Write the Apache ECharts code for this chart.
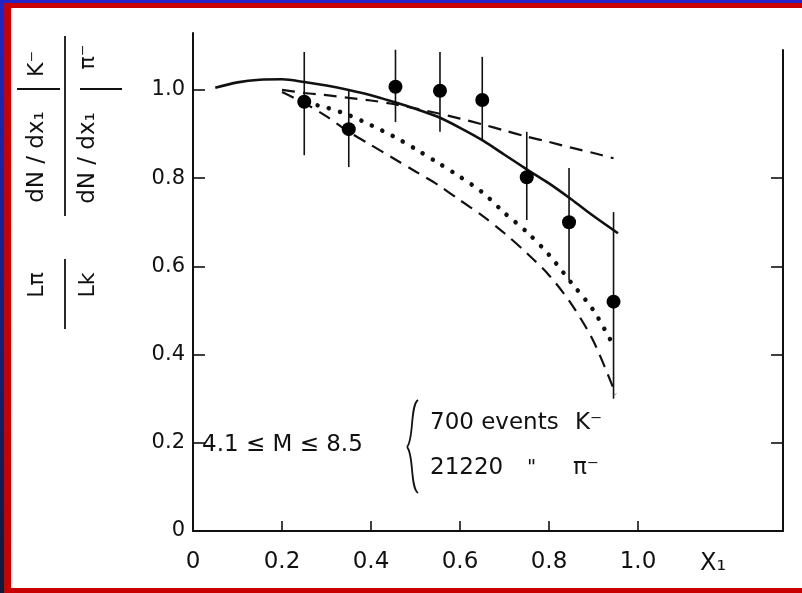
<!DOCTYPE html>
<html>
<head>
<meta charset="utf-8">
<script src="https://cdn.jsdelivr.net/npm/echarts@6/dist/echarts.min.js"></script>
<style>
html,body{margin:0;padding:0;background:#fff;}
#chart{width:802px;height:593px;}
</style>
</head>
<body>
<div id="chart"></div>
<script>
// ---- data ----
const xTickLabels = [0, 0.2, 0.4, 0.6, 0.8, 1.0];
const yTickLabels = [0, 0.2, 0.4, 0.6, 0.8, 1.0];
const xTickMarks = [0.2, 0.4, 0.6, 0.8, 1.0];
const yTickMarks = [0.2, 0.4, 0.6, 0.8, 1.0];
const yRightTickMarks = [0.2, 0.4, 0.6, 0.8];

const pointX = [0.25, 0.35, 0.455, 0.555, 0.65, 0.75, 0.845, 0.945];
const pointY = [0.973, 0.911, 1.007, 0.998, 0.977, 0.802, 0.70, 0.52];
const errLow = [0.852, 0.825, 0.927, 0.905, 0.886, 0.705, 0.568, 0.30];
const errHigh = [1.086, 1.0, 1.091, 1.086, 1.075, 0.905, 0.823, 0.723];

const solidX = [0.05, 0.1, 0.15, 0.2, 0.25, 0.3, 0.35, 0.4, 0.45, 0.5, 0.55, 0.6, 0.65, 0.7, 0.75, 0.8, 0.85, 0.9, 0.955];
const solidY = [1.005, 1.017, 1.023, 1.024, 1.018, 1.01, 1.0, 0.988, 0.973, 0.957, 0.939, 0.914, 0.886, 0.853, 0.82, 0.788, 0.752, 0.714, 0.675];

const upperDashX = [0.2, 0.25, 0.3, 0.35, 0.4, 0.45, 0.5, 0.55, 0.6, 0.65, 0.7, 0.75, 0.8, 0.85, 0.9, 0.945];
const upperDashY = [1.0, 0.993, 0.988, 0.982, 0.976, 0.968, 0.958, 0.947, 0.935, 0.922, 0.908, 0.894, 0.882, 0.869, 0.857, 0.845];

const dottedX = [0.28, 0.3, 0.35, 0.4, 0.45, 0.5, 0.55, 0.6, 0.65, 0.7, 0.75, 0.8, 0.85, 0.9, 0.945];
const dottedY = [0.965, 0.96, 0.943, 0.92, 0.895, 0.866, 0.835, 0.803, 0.768, 0.721, 0.678, 0.626, 0.563, 0.50, 0.42];

const lowerDashX = [0.2, 0.25, 0.3, 0.35, 0.4, 0.45, 0.5, 0.55, 0.6, 0.65, 0.7, 0.75, 0.8, 0.85, 0.9, 0.95];
const lowerDashY = [0.995, 0.97, 0.94, 0.905, 0.875, 0.845, 0.815, 0.785, 0.75, 0.715, 0.675, 0.63, 0.58, 0.515, 0.43, 0.31];

// ---- build ----
const zip = (xs, ys) => xs.map((x, i) => [x, ys[i]]);
const FONT = '"DejaVu Sans", "Liberation Sans", sans-serif';
const fmt = v => (v === 0 ? '0' : v.toFixed(1));

const chart = echarts.init(document.getElementById('chart'), null, {renderer: 'canvas'});

function txt(text, x, y, size, opts) {
  opts = opts || {};
  return {
    type: 'text', x: x, y: y, rotation: opts.rotation || 0, z: 50,
    style: {
      text: text, fill: '#111',
      font: size + 'px ' + FONT,
      textAlign: opts.align || 'left',
      textVerticalAlign: 'middle'
    }
  };
}
function ln(x1, y1, x2, y2, w) {
  return {type: 'line', z: 50, shape: {x1: x1, y1: y1, x2: x2, y2: y2},
          style: {stroke: '#111', lineWidth: w || 1.8}};
}
const R = Math.PI / 2;

const option = {
  animation: false,
  backgroundColor: {
    type: 'linear', x: 0, y: 0, x2: 0, y2: 1,
    colorStops: [{offset: 0, color: '#2424c4'}, {offset: 1, color: '#111a36'}]
  },
  grid: [
    {left: 193, top: 33, width: 590, height: 498},
    {left: 193, top: 50, width: 590, height: 481}
  ],
  xAxis: [
    {
      gridIndex: 0, type: 'value', min: 0, max: 1.3258,
      axisLine: {show: true, onZero: false, lineStyle: {color: '#111', width: 2}},
      axisTick: {show: true, inside: true, length: 10, customValues: xTickMarks, lineStyle: {color: '#111', width: 1.6}},
      axisLabel: {show: true, customValues: xTickLabels, formatter: fmt, fontSize: 23, fontFamily: FONT, color: '#111', margin: 20},
      splitLine: {show: false}
    },
    {gridIndex: 1, type: 'value', min: 0, max: 1.3258, show: false}
  ],
  yAxis: [
    {
      gridIndex: 0, type: 'value', min: 0, max: 1.129,
      axisLine: {show: true, onZero: false, lineStyle: {color: '#111', width: 2}},
      axisTick: {show: true, inside: true, length: 12, customValues: yTickMarks, lineStyle: {color: '#111', width: 1.6}},
      axisLabel: {show: true, customValues: yTickLabels, formatter: fmt, fontSize: 21, fontFamily: FONT, color: '#111', margin: 8},
      splitLine: {show: false}
    },
    {
      gridIndex: 1, type: 'value', position: 'right', min: 0, max: 1.0907,
      axisLine: {show: true, onZero: false, lineStyle: {color: '#111', width: 2}},
      axisTick: {show: true, inside: true, length: 12, customValues: yRightTickMarks, lineStyle: {color: '#111', width: 1.6}},
      axisLabel: {show: false},
      splitLine: {show: false}
    }
  ],
  graphic: [
    {type: 'rect', z: -10, shape: {x: 4, y: 3, width: 798, height: 590}, style: {fill: '#c80000'}},
    {type: 'rect', z: -9, shape: {x: 11, y: 8, width: 791, height: 580}, style: {fill: '#ffffff'}},
    // y-axis title: rotated fractions
    txt('dN / dx\u2081', 37, 157, 23, {rotation: R, align: 'center'}),
    txt('K\u207B', 37, 64, 22, {rotation: R, align: 'center'}),
    ln(17, 89, 60, 89),
    txt('dN / dx\u2081', 88, 158, 23, {rotation: R, align: 'center'}),
    txt('\u03C0\u207B', 88, 57, 22, {rotation: R, align: 'center'}),
    ln(80, 89, 122, 89),
    ln(65, 36, 65, 216),
    txt('L\u03C0', 37, 285, 22, {rotation: R, align: 'center'}),
    txt('Lk', 88, 285, 22, {rotation: R, align: 'center'}),
    ln(65, 259, 65, 329),
    // x-axis name
    txt('X\u2081', 700, 564, 24),
    // annotation
    txt('4.1 \u2264 M \u2264 8.5', 202, 445, 23),
    {type: 'bezierCurve', z: 50, shape: {x1: 418, y1: 400, cpx1: 410, cpy1: 405, cpx2: 414, cpy2: 440, x2: 407, y2: 447},
     style: {stroke: '#111', lineWidth: 1.8, fill: null}},
    {type: 'bezierCurve', z: 50, shape: {x1: 407, y1: 447, cpx1: 414, cpy1: 454, cpx2: 410, cpy2: 488, x2: 418, y2: 493},
     style: {stroke: '#111', lineWidth: 1.8, fill: null}},
    txt('700 events', 430, 423, 23),
    txt('K\u207B', 575, 423, 23),
    txt('21220', 430, 468, 23),
    txt('"', 527, 468, 20),
    txt('\u03C0\u207B', 573, 468, 23)
  ],
  series: [
    {
      name: 'solid', type: 'line', xAxisIndex: 0, yAxisIndex: 0,
      data: zip(solidX, solidY), showSymbol: false, symbol: 'none', smooth: 0.3,
      lineStyle: {color: '#111', width: 2.6}, z: 3
    },
    {
      name: 'upper dashed', type: 'line', xAxisIndex: 0, yAxisIndex: 0,
      data: zip(upperDashX, upperDashY), showSymbol: false, symbol: 'none', smooth: 0.3,
      lineStyle: {color: '#111', width: 2.2, type: [13, 8]}, z: 3
    },
    {
      name: 'dotted', type: 'line', xAxisIndex: 0, yAxisIndex: 0,
      data: zip(dottedX, dottedY), showSymbol: false, symbol: 'none', smooth: 0.3,
      lineStyle: {color: '#111', width: 4.5, type: [0.1, 11.5], cap: 'round'}, z: 3
    },
    {
      name: 'lower dashed', type: 'line', xAxisIndex: 0, yAxisIndex: 0,
      data: zip(lowerDashX, lowerDashY), showSymbol: false, symbol: 'none', smooth: 0.3,
      lineStyle: {color: '#111', width: 2.2, type: [13, 8]}, z: 3
    },
    {
      name: 'error bars', type: 'custom', xAxisIndex: 0, yAxisIndex: 0,
      data: pointX.map((x, i) => [x, errLow[i], errHigh[i]]),
      renderItem: function (params, api) {
        const lo = api.coord([api.value(0), api.value(1)]);
        const hi = api.coord([api.value(0), api.value(2)]);
        return {type: 'line', shape: {x1: lo[0], y1: lo[1], x2: hi[0], y2: hi[1]},
                style: {stroke: '#111', lineWidth: 1.6}};
      },
      z: 4
    },
    {
      name: 'data', type: 'scatter', xAxisIndex: 0, yAxisIndex: 0,
      data: zip(pointX, pointY), symbol: 'circle', symbolSize: 14,
      itemStyle: {color: '#000', opacity: 1}, z: 5
    }
  ]
};
chart.setOption(option);
</script>
</body>
</html>
